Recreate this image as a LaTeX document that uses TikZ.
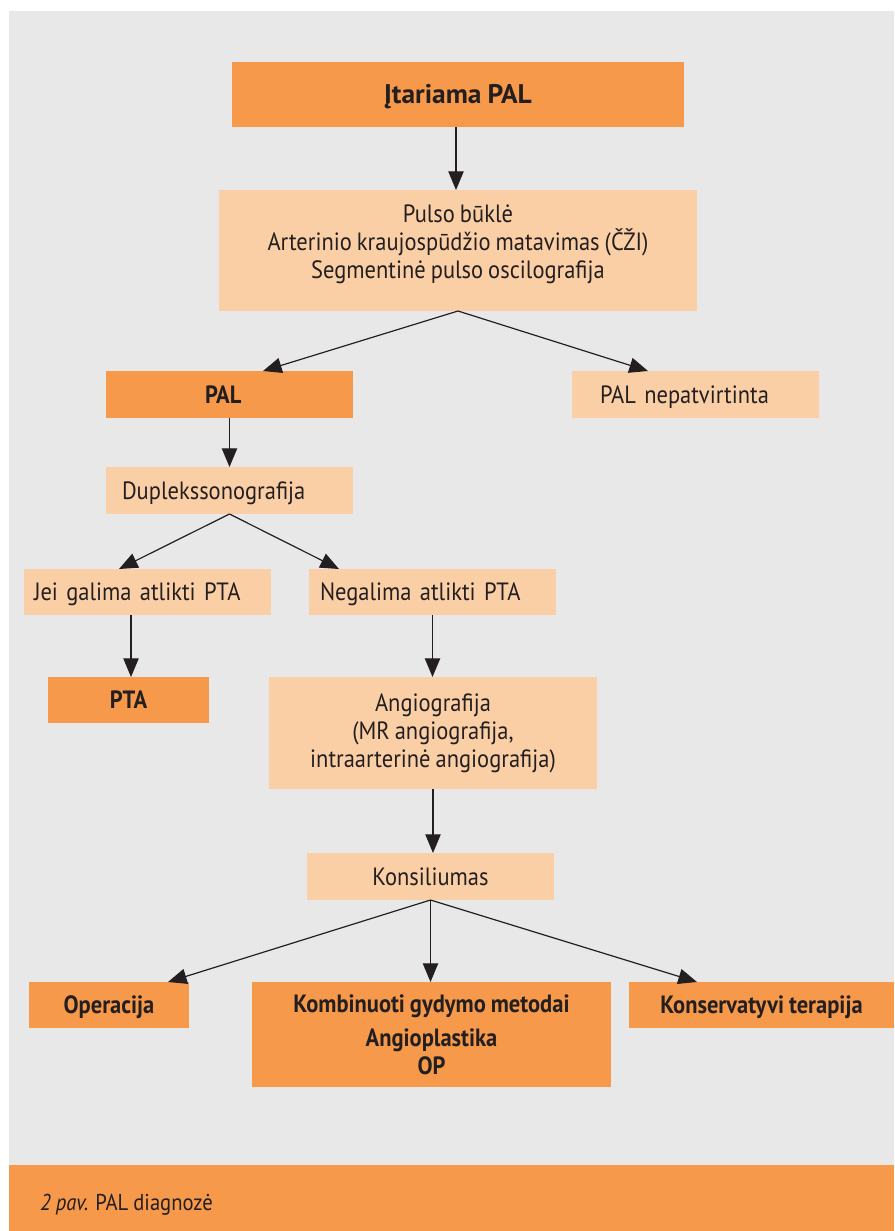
\documentclass[tikz,border=0pt]{standalone}
\usepackage{fontspec}
\setmainfont{PT Sans}[FakeStretch=0.9]
\newfontfamily\titlefont{PT Sans}[FakeStretch=1.02]
\usetikzlibrary{arrows.meta,calc}
\definecolor{bggray}{HTML}{E8E8E8}
\definecolor{dorange}{HTML}{F7994A}
\definecolor{lorange}{HTML}{FBCFA6}
\definecolor{ink}{HTML}{231F20}
\newcommand{\fsz}{\fontsize{18.75pt}{21pt}\selectfont\spaceskip=0.2em plus 0.05em\relax}
\newcommand{\tsz}{\fontsize{20.2pt}{23pt}\selectfont\spaceskip=0.22em\relax}
\newcommand{\csz}{\fontsize{17.2pt}{20pt}\selectfont\spaceskip=0.22em\relax}
\tikzset{
  sz/.style n args={2}{minimum width=#1*0.75pt, minimum height=#2*0.75pt},
  box/.style={inner sep=0pt, outer sep=0pt, text=ink, font=\fsz},
  dark/.style={box, fill=dorange, font=\bfseries\fsz},
  light/.style={box, fill=lorange},
  one/.style={text height=13.1pt, text depth=0pt},
  conn/.style={draw=ink, line width=0.9pt, -{Triangle[length=14pt,width=11.5pt]}}
}
\begin{document}
\begin{tikzpicture}[x=0.75pt,y=-0.75pt]
\useasboundingbox (0,0) rectangle (894,1231);
\fill[white] (0,0) rectangle (894,1231);
\fill[bggray] (9,11) rectangle (894,1165);
\fill[dorange] (9,1165) rectangle (894,1231);

\node[dark, font=\titlefont\bfseries\tsz, text height=14.1pt, text depth=0pt, sz={452}{65}] (top) at (458,94.5) {Įtariama PAL};
\node[light, sz={478}{121}, align=center] (pulso) at (458,250.5)
  {Pulso būklė\\Arterinio kraujospūdžio matavimas (ČŽI)\\Segmentinė pulso oscilografija\rule[-13.5pt]{0pt}{1pt}};
\node[dark, one, sz={247}{47}, inner xsep=74.25pt, text width=36.75pt, align=left] (pal) at (229.5,394.5) {PAL};
\node[light, one, sz={247}{47}, inner xsep=21pt, text width=143.25pt, align=left] (nep) at (695.5,394.5) {PAL nepatvirtinta};
\node[light, one, sz={247}{47}, inner xsep=12pt, text width=161.25pt, align=left] (dup) at (229.5,490.5) {Duplekssonografija};
\node[light, one, sz={247}{46}, inner xsep=7.5pt, text width=170.25pt, align=left] (jei) at (147.5,592) {Jei galima atlikti PTA};
\node[light, one, sz={247}{46}, inner xsep=8.25pt, text width=168.75pt, align=left] (neg) at (432.5,592) {Negalima atlikti PTA};
\node[dark, one, sz={161}{46}] (pta) at (128.5,700) {PTA};
\node[light, sz={328}{112}, align=center] (angio) at (433,733)
  {Angiografija\\(MR angiografija,\\intraarterinė angiografija)};
\node[light, one, sz={247}{47}] (kons) at (430.5,876.5) {Konsiliumas};
\node[dark, one, sz={160}{46}] (oper) at (109,1005) {Operacija};
\node[dark, sz={359}{105}, align=center] (komb) at (431.5,1034.5)
  {Kombinuoti gydymo metodai\\[4.5pt]Angioplastika\\OP};
\node[dark, one, sz={265}{46}] (kt) at (761.5,1005) {Konservatyvi terapija};

\node[box, font=\csz, anchor=base west] (cap) at (40,1210) {\textit{2 pav.} PAL diagnozė};

\coordinate (topout) at ($(top.south)+(-2,0)$);
\coordinate (palin) at ($(pal.north west)+(157,0)$);
\coordinate (nepin) at ($(nep.north west)+(76,0)$);
\coordinate (jeiin) at ($(jei.north west)+(95,0)$);
\coordinate (negin) at ($(neg.north west)+(30,0)$);
\coordinate (ptain) at ($(pta.north west)+(83,0)$);
\coordinate (operin) at ($(oper.north east)+(-21,0)$);
\coordinate (ktin) at ($(kt.north west)+(68,0)$);

\draw[conn] (topout) -- (topout |- pulso.north);
\draw[conn] (pulso.south) -- (palin);
\draw[conn] (pulso.south) -- (nepin);
\draw[conn] (pal.south) -- (dup.north);
\draw[conn] (dup.south) -- (jeiin);
\draw[conn] (dup.south) -- (negin);
\draw[conn] (ptain |- jei.south) -- (ptain);
\draw[conn] (neg.south) -- (neg.south |- angio.north);
\draw[conn] (angio.south) -- (angio.south |- kons.north);
\draw[conn] (kons.south) -- (operin);
\draw[conn] (kons.south) -- (kons.south |- komb.north);
\draw[conn] (kons.south) -- (ktin);
\end{tikzpicture}
\end{document}
